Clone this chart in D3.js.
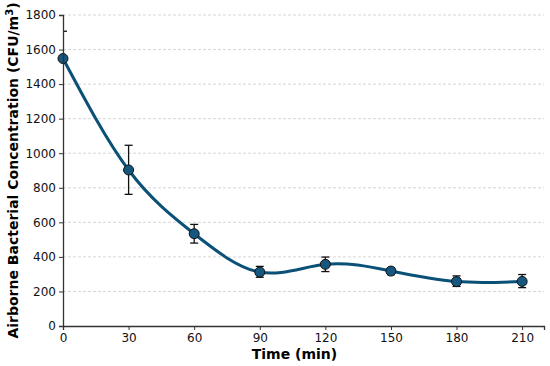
<!DOCTYPE html>
<html>
<head>
<meta charset="utf-8">
<script src="https://cdn.jsdelivr.net/npm/d3@7"></script>
<style>
  body { margin: 0; background: #fff; }
  text { font-family: "DejaVu Sans", sans-serif; }
</style>
</head>
<body>
<div class="chart"></div>
<script>
var times = [0, 30, 60, 90, 120, 150, 180, 210];
var concentration = [1548, 903, 534, 312, 357, 318, 257, 258];
var errUpper = [158, 143, 54, 33, 42, 19, 33, 40];
var errLower = [0, 141, 54, 30, 42, 21, 28, 36];
var xTicks = [0, 30, 60, 90, 120, 150, 180, 210];
var yTicks = [0, 200, 400, 600, 800, 1000, 1200, 1400, 1600, 1800];

var svgWidth = 550;
var svgHeight = 366;
var margin = { top: 15, right: 6, bottom: 40, left: 63 };
var width = svgWidth - margin.left - margin.right;
var height = svgHeight - margin.top - margin.bottom;

var data = times.map(function(t, i) {
    return { t: t, v: concentration[i], up: errUpper[i], lo: errLower[i] };
});

var svg = d3.select(".chart")
    .append("svg")
    .attr("width", svgWidth)
    .attr("height", svgHeight);

var chartGroup = svg.append("g")
    .attr("transform", `translate(${margin.left}, ${margin.top})`);

svg.append("defs").append("clipPath")
    .attr("id", "plotclip")
    .append("rect")
    .attr("width", width)
    .attr("height", height);

var x = d3.scaleLinear().domain([0, 220]).range([0, width]);
var y = d3.scaleLinear().domain([0, 1800]).range([height, 0]);

// grid
chartGroup.selectAll(".grid")
    .data(yTicks.slice(1))
    .enter()
    .append("line")
    .attr("x1", 0)
    .attr("x2", width)
    .attr("y1", d => y(d))
    .attr("y2", d => y(d))
    .attr("stroke", "#cccccc")
    .attr("stroke-width", 0.8)
    .attr("stroke-dasharray", "3,2");

// smooth line
var line = d3.line()
    .x(d => x(d.t))
    .y(d => y(d.v))
    .curve(d3.curveNatural);

chartGroup.append("path")
    .datum(data)
    .attr("clip-path", "url(#plotclip)")
    .attr("d", line)
    .attr("fill", "none")
    .attr("stroke", "#0b5077")
    .attr("stroke-width", 3);

// error bars
var errG = chartGroup.append("g").attr("clip-path", "url(#plotclip)");
var bars = errG.selectAll(".err").data(data).enter().append("g");
bars.append("line")
    .attr("x1", d => x(d.t)).attr("x2", d => x(d.t))
    .attr("y1", d => y(d.v + d.up)).attr("y2", d => y(d.v - d.lo))
    .attr("stroke", "#111").attr("stroke-width", 1.3);
bars.append("line")
    .attr("x1", d => x(d.t) - 4).attr("x2", d => x(d.t) + 4)
    .attr("y1", d => y(d.v + d.up)).attr("y2", d => y(d.v + d.up))
    .attr("stroke", "#111").attr("stroke-width", 1.3);
bars.append("line")
    .attr("x1", d => x(d.t) - 4).attr("x2", d => x(d.t) + 4)
    .attr("y1", d => y(d.v - d.lo)).attr("y2", d => y(d.v - d.lo))
    .attr("stroke", "#111").attr("stroke-width", 1.3);

// markers
chartGroup.selectAll("circle")
    .data(data)
    .enter()
    .append("circle")
    .attr("cx", d => x(d.t))
    .attr("cy", d => y(d.v))
    .attr("r", 5)
    .attr("fill", "#15577f")
    .attr("stroke", "#111")
    .attr("stroke-width", 1);

// axes
var bottomAxis = d3.axisBottom(x).tickValues(xTicks).tickFormat(d3.format("d"))
    .tickSizeOuter(0).tickSize(4).tickPadding(3);
var leftAxis = d3.axisLeft(y).tickValues(yTicks).tickFormat(d3.format("d"))
    .tickSizeOuter(0).tickSize(4).tickPadding(3);

var xg = chartGroup.append("g")
    .attr("transform", `translate(0, ${height})`)
    .call(bottomAxis);
var yg = chartGroup.append("g").call(leftAxis);

[xg, yg].forEach(function(g) {
    g.selectAll("text").attr("font-size", "12px").attr("fill", "#111")
        .attr("font-family", "DejaVu Sans, sans-serif");
    g.selectAll("line").attr("stroke", "#333").attr("stroke-width", 1);
    g.select(".domain").attr("stroke", "#333").attr("stroke-width", 1.3);
});

chartGroup.append("text")
    .attr("transform", `translate(${width / 2 - 9}, ${height + 33})`)
    .attr("text-anchor", "middle")
    .attr("font-size", "14px")
    .attr("font-weight", "bold")
    .text("Time (min)");

var yl = chartGroup.append("text")
    .attr("transform", `translate(${-margin.left + 18}, ${height / 2}) rotate(-90)`)
    .attr("text-anchor", "middle")
    .attr("font-size", "14px")
    .attr("font-weight", "bold");
yl.append("tspan").text("Airborne Bacterial Concentration (CFU/m");
yl.append("tspan").attr("baseline-shift", "super").attr("font-size", "10px").text("3");
yl.append("tspan").text(")");
</script>
</body>
</html>
